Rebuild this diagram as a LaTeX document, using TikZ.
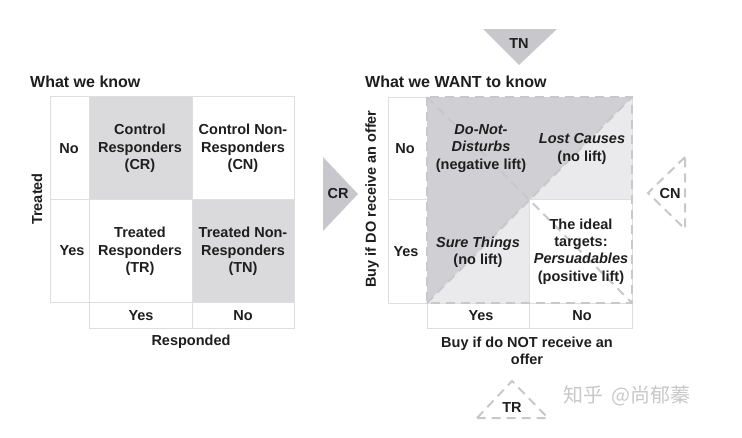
\documentclass[tikz,border=0pt]{standalone}
\usepackage{fontspec}
\setmainfont{Liberation Sans}
\newfontfamily\cjkfont{Noto Sans CJK SC}
\usepackage{xcolor}
\usetikzlibrary{calc, positioning}

\definecolor{gridline}{RGB}{222,222,224}
\definecolor{shadeknow}{RGB}{218,218,220}
\definecolor{shadedark}{RGB}{208,208,212}
\definecolor{shadelight}{RGB}{234,234,236}
\definecolor{dashgray}{RGB}{200,200,202}
\definecolor{arrowgray}{RGB}{200,200,204}
\definecolor{textgray}{RGB}{30,30,30}
\definecolor{markgray}{RGB}{200,200,200}

\tikzset{
    cell/.style={align=center, inner sep=0pt, text=textgray,
        font=\bfseries\fontsize{14.5}{17.3}\selectfont},
    title/.style={anchor=west, inner sep=0pt, text=textgray,
        font=\bfseries\fontsize{16}{19}\selectfont},
    gridrule/.style={draw=gridline, line width=1pt},
    dashrule/.style={draw=dashgray, line width=2pt, dash pattern=on 9pt off 6pt},
}

\begin{document}
\begin{tikzpicture}[x=1pt, y=-1pt]

    \useasboundingbox (0,0) rectangle (742,437);

    % =================================================================
    % 1. LEFT TABLE: WHAT WE KNOW
    % =================================================================
    \fill[shadeknow] (89,96) rectangle (192,199);
    \fill[shadeknow] (192,199) rectangle (294,302);

    \draw[gridrule] (50,96) rectangle (294,302);
    \draw[gridrule] (89,302) rectangle (294,328);
    \foreach \x in {89, 192} {
        \draw[gridrule] (\x,96) -- (\x,328);
    }
    \draw[gridrule] (50,199) -- (294,199);

    \node[title] (know) at (30,82) {What we know};
    \node[cell, rotate=90] (treated) at (37,199) {Treated};
    \node[cell] (kno) at (69,149) {No};
    \node[cell] (kyes) at (72,251) {Yes};

    \node[cell] (ctrlresp) at (140,148.5) {Control\\Responders\\(CR)};
    \node[cell] (ctrlnon) at (243,148.5) {Control Non-\\Responders\\(CN)};
    \node[cell] (trtresp) at (140,251.5) {Treated\\Responders\\(TR)};
    \node[cell] (trtnon) at (243,251.5) {Treated Non-\\Responders\\(TN)};

    \node[cell] (respyes) at (141,316) {Yes};
    \node[cell] (respno) at (243,316) {No};
    \node[cell] (responded) at (191,342) {Responded};

    % =================================================================
    % 2. RIGHT TABLE: WHAT WE WANT TO KNOW
    % =================================================================
    \draw[gridrule] (388,97) rectangle (632,303);
    \draw[gridrule] (427,303) rectangle (632,328);
    \foreach \x in {427, 529} {
        \draw[gridrule] (\x,97) -- (\x,328);
    }
    \draw[gridrule] (388,199) -- (632,199);

    % shaded halves of the quadrant
    \fill[shadelight] (427,303) -- (529,303) -- (529,199) -- (632,199)
        -- (632,97) -- cycle;
    \fill[shadedark] (427,97) -- (632,97) -- (427,303) -- cycle;
    \draw[gridrule] (529,199) -- (632,199) (529,199) -- (529,303);

    % dashed frame and diagonals
    \draw[dashrule] (427,97) rectangle (632,303);
    \draw[dashrule] (427,303) -- (632,97);
    \draw[dashrule] (427,97) -- (632,303);

    \node[title] (want) at (365,82) {What we WANT to know};
    \node[cell, rotate=90] (buydo) at (372,199) {Buy if DO receive an offer};
    \node[cell] (wno) at (405,149) {No};
    \node[cell] (wyes) at (406,252) {Yes};

    \node[cell] (donot) at (481,148.5) {\textit{Do-Not-}\\\textit{Disturbs}\\(negative lift)};
    \node[cell] (lost) at (582,149) {\textit{Lost Causes}\\(no lift)};
    \node[cell] (sure) at (478,252) {\textit{Sure Things}\\(no lift)};
    \node[cell] (persuade) at (581,251.5) {The ideal\\targets:\\\textit{Persuadables}\\(positive lift)};

    \node[cell] (notyes) at (481,316) {Yes};
    \node[cell] (notno) at (582,316) {No};
    \node[cell] (buynot) at (527,350.5) {Buy if do NOT receive an\\offer};

    % =================================================================
    % 3. TRIANGLE MARKERS
    % =================================================================
    \fill[arrowgray] (483,29) -- (557,29) -- (519,65) -- cycle;
    \node[cell] (tn) at (519,44) {TN};

    \fill[arrowgray] (323,157) -- (358,194) -- (323,231) -- cycle;
    \node[cell] (cr) at (338,194) {CR};

    \draw[dashrule] (685,157) -- (648,193) -- (685,229) -- cycle;
    \node[cell] (cn) at (670,194) {CN};

    \draw[dashrule] (477,418) -- (512,381) -- (548,418) -- cycle;
    \node[cell] (tr) at (512,408) {TR};

    % watermark
    \node[inner sep=0pt, text=markgray, font=\cjkfont\fontsize{20}{20}\selectfont]
        (mark) at (627,396) {知乎\hspace{8pt}@尚郁蓁};

\end{tikzpicture}
\end{document}
